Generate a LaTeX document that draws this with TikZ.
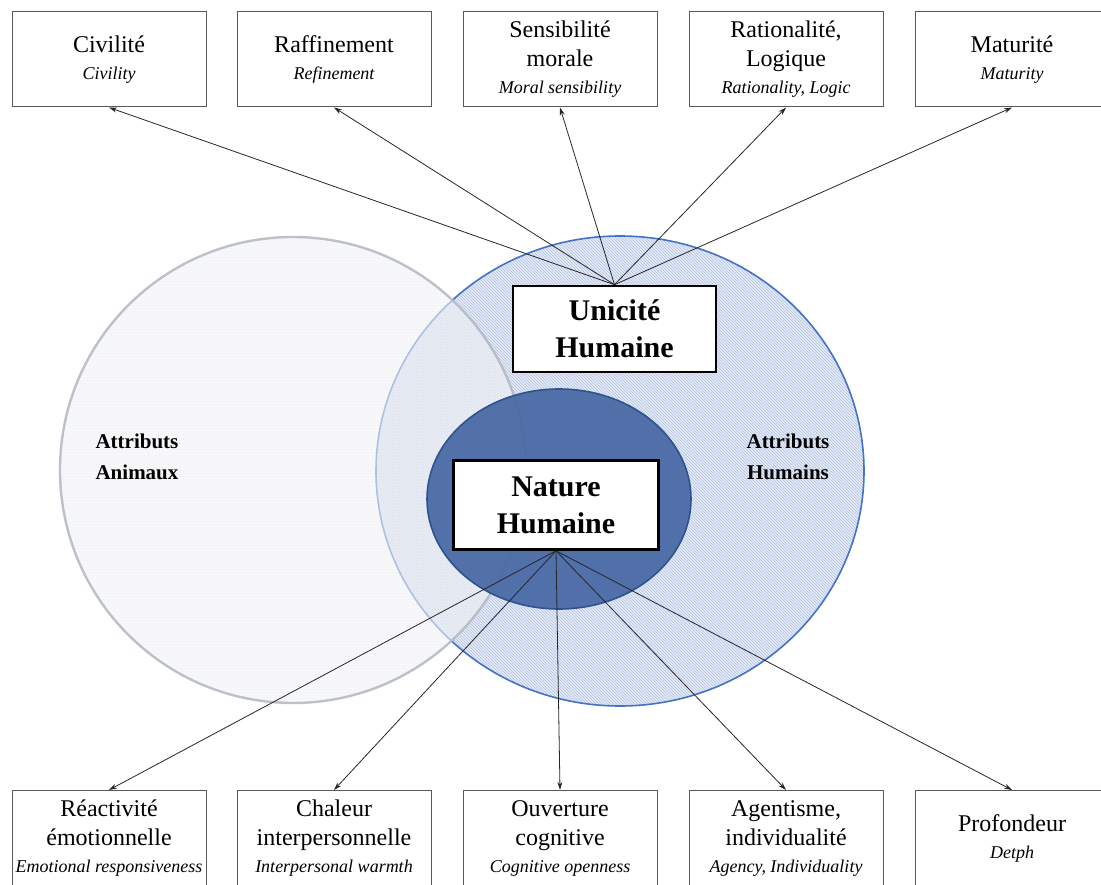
\documentclass[tikz,border=0pt]{standalone}
\usepackage{fontspec}
\setmainfont{Liberation Serif}
\usetikzlibrary{arrows.meta,patterns}
\definecolor{hatchbg}{RGB}{230,235,246}
\definecolor{hatchline}{RGB}{178,193,224}
\definecolor{bluering}{RGB}{68,114,196}
\definecolor{greyring}{RGB}{178,183,193}
\definecolor{greybg}{RGB}{243,244,247}
\definecolor{greydot}{RGB}{205,209,218}
\definecolor{ellfill}{RGB}{72,104,164}
\definecolor{ellline}{RGB}{47,82,143}
\definecolor{boxline}{RGB}{90,90,90}
\tikzset{
  attrbox/.style={draw=boxline, line width=1pt, fill=white, minimum width=194pt, minimum height=95pt, inner sep=2pt, align=center, font=\fontsize{24}{29}\selectfont},
  corebox/.style={draw=black, line width=2.6pt, fill=white, inner sep=2pt, align=center, font=\fontsize{30}{37}\selectfont\bfseries},
  zonelabel/.style={align=center, font=\fontsize{21}{31}\selectfont\bfseries},
  arr/.style={draw=black!85, line width=0.8pt, -{Stealth[length=8pt,width=5pt]}},
}
\newcommand{\tr}[1]{{\fontsize{18}{28}\selectfont\itshape #1}}
\begin{document}
\begin{tikzpicture}[x=1pt,y=-1pt]
\useasboundingbox (0,0) rectangle (1101,885);
% big blue circle
\fill[hatchbg] (620,471) ellipse [x radius=244pt, y radius=235pt];
\fill[pattern=north west lines, pattern color=hatchline] (620,471) ellipse [x radius=244pt, y radius=235pt];
\draw[bluering, line width=1.6pt] (620,471) ellipse [x radius=244pt, y radius=235pt];
% left grey circle
\fill[greybg, fill opacity=0.6] (293,470) circle [radius=233pt];
\fill[pattern=dots, pattern color=greydot, fill opacity=0.6] (293,470) circle [radius=233pt];
\draw[greyring, line width=2.4pt, draw opacity=0.85] (293,470) circle [radius=233pt];
% inner ellipse
\draw[fill=ellfill, fill opacity=0.93, draw=ellline, line width=1.6pt] (559,499) ellipse [x radius=132pt, y radius=110pt];
% zone labels
\node[zonelabel] (aa) at (137,457) {Attributs\\Animaux};
\node[zonelabel] (ah) at (788,457) {Attributs\\Humains};
% core boxes
\node[corebox, minimum width=203pt, minimum height=86pt] (uh) at (614.5,329) {Unicité\\Humaine};
\node[corebox, minimum width=205pt, minimum height=89pt] (nh) at (556,505) {Nature\\Humaine};
% top boxes
\node[attrbox] (t1) at (109,59.5) {Civilité\\[-2pt]\tr{Civility}};
\node[attrbox] (t2) at (334,59.5) {Raffinement\\[-2pt]\tr{Refinement}};
\node[attrbox] (t3) at (560,59.5) {Sensibilité\\morale\\[-2pt]\tr{Moral sensibility}};
\node[attrbox] (t4) at (786,59.5) {Rationalité,\\Logique\\[-2pt]\tr{Rationality, Logic}};
\node[attrbox] (t5) at (1012,59.5) {Maturité\\[-2pt]\tr{Maturity}};
% bottom boxes
\node[attrbox] (b1) at (109,838) {Réactivité\\émotionnelle\\[-2pt]\tr{Emotional responsiveness}};
\node[attrbox] (b2) at (334,838) {Chaleur\\interpersonnelle\\[-2pt]\tr{Interpersonal warmth}};
\node[attrbox] (b3) at (560,838) {Ouverture\\cognitive\\[-2pt]\tr{Cognitive openness}};
\node[attrbox] (b4) at (786,838) {Agentisme,\\individualité\\[-2pt]\tr{Agency, Individuality}};
\node[attrbox] (b5) at (1012,838) {Profondeur\\[-2pt]\tr{Detph}};
% arrows
\foreach \t in {t1,t2,t3,t4,t5} \draw[arr] (uh.north) -- (\t.south);
\foreach \b in {b1,b2,b3,b4,b5} \draw[arr] (nh.south) -- (\b.north);
\end{tikzpicture}
\end{document}
